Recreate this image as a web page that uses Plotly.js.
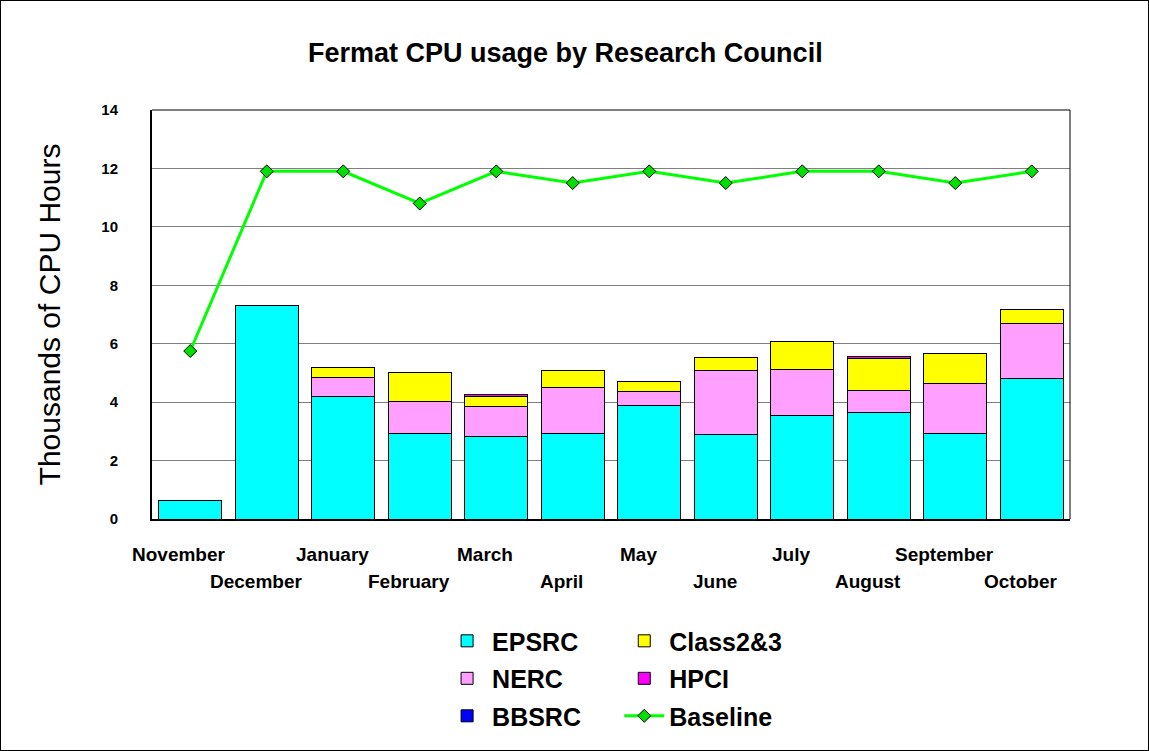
<!DOCTYPE html>
<html><head><meta charset="utf-8">
<script src="https://cdn.plot.ly/plotly-3.0.1.min.js"></script>
<style>
html,body{margin:0;padding:0;background:#fff;}
#wrap{width:1149px;height:751px;box-sizing:border-box;border:1px solid #000;position:relative;overflow:hidden;}
#chart{position:absolute;left:-1px;top:-1px;width:1149px;height:751px;}
</style></head>
<body><div id="wrap"><div id="chart"></div></div>
<script>
const months = ["November","December","January","February","March","April","May","June","July","August","September","October"];
const epsrc   = [0.65, 7.30, 4.21, 2.93, 2.83, 2.93, 3.90, 2.88, 3.55, 3.66, 2.93, 4.82];
const nerc    = [0, 0, 0.62, 1.10, 1.03, 1.58, 0.48, 2.19, 1.56, 0.73, 1.70, 1.88];
const bbsrc   = [0, 0, 0, 0, 0, 0, 0, 0, 0, 0, 0, 0];
const class23 = [0, 0, 0.35, 0.97, 0.34, 0.56, 0.34, 0.47, 0.98, 1.09, 1.04, 0.48];
const hpci    = [0, 0, 0, 0, 0.07, 0, 0, 0, 0, 0.07, 0, 0];
const baseline = [5.75, 11.9, 11.9, 10.8, 11.9, 11.5, 11.9, 11.5, 11.9, 11.9, 11.5, 11.9];
const yTicks = [0, 2, 4, 6, 8, 10, 12, 14];

const FONT = "Liberation Sans, Arial, sans-serif";
const outline = {color: "#000", width: 1};
function bar(name, vals, color, legend, group) {
  return {type: "bar", name: name, x: months, y: vals, marker: {color: color, line: outline},
          legend: legend, legendgroup: group, hoverinfo: "y+name"};
}
const traces = [
  bar("EPSRC", epsrc, "#00ffff", "legend", "a"),
  bar("NERC", nerc, "#ff9fff", "legend", "b"),
  bar("BBSRC", bbsrc, "#0000ff", "legend", "c"),
  bar("Class2&3", class23, "#ffff00", "legend2", "d"),
  bar("HPCI", hpci, "#ff00ff", "legend2", "e"),
  {type: "scatter", mode: "lines+markers", name: "Baseline", x: months, y: baseline,
   line: {color: "#00ff00", width: 3},
   marker: {symbol: "diamond", size: 10, color: "#00e000", line: {color: "#000", width: 1}},
   legend: "legend2", legendgroup: "f"}
];

const annotations = months.map((m, i) => ({
  x: m, xref: "x", yref: "paper", y: i % 2 === 0 ? -0.086 : -0.154,
  yanchor: "middle", xanchor: "center", xshift: -11, showarrow: false, text: m,
  font: {family: FONT, size: 19, color: "#000", weight: "bold"}
}));

const legendBase = {
  font: {family: FONT, size: 25, color: "#000", weight: "bold"},
  bgcolor: "rgba(0,0,0,0)", borderwidth: 0, orientation: "v",
  traceorder: "grouped", tracegroupgap: 2, itemwidth: 40, yanchor: "top", xanchor: "left",
  yref: "container"
};

const layout = {
  width: 1149, height: 751,
  margin: {l: 152, r: 79, t: 110, b: 232},
  paper_bgcolor: "#fff", plot_bgcolor: "#fff",
  barmode: "stack", bargap: 0.18,
  title: {text: "Fermat CPU usage by Research Council", x: 0.492, xanchor: "center", y: 0.93, yanchor: "middle",
          font: {family: FONT, size: 27, color: "#000", weight: "bold"}},
  xaxis: {type: "category", range: [-0.5, 11.5], showticklabels: false, ticks: "", showgrid: false,
          showline: true, linecolor: "#000", linewidth: 2, mirror: false, fixedrange: true},
  yaxis: {range: [0, 14], tickvals: yTicks, ticktext: yTicks.map(String),
          showgrid: true, gridcolor: "#808080", gridwidth: 1, zeroline: false,
          showline: true, linecolor: "#000", linewidth: 2, ticks: "",
          tickfont: {family: FONT, size: 15, color: "#000", weight: "bold"}, ticklabelstandoff: 29,
          title: {text: "Thousands of CPU Hours", standoff: 32, font: {family: FONT, size: 30, color: "#000"}}},
  shapes: [{type: "line", xref: "paper", yref: "paper", x0: 1, x1: 1, y0: 0, y1: 1, line: {color: "#000", width: 1}},
           {type: "line", xref: "paper", yref: "paper", x0: 0, x1: 1, y0: 1, y1: 1, line: {color: "#000", width: 1}}],
  annotations: annotations,
  legend: Object.assign({}, legendBase, {x: 0.316, y: 0.177}),
  legend2: Object.assign({}, legendBase, {x: 0.509, y: 0.177}),
  showlegend: true
};
Plotly.newPlot("chart", traces, layout, {displayModeBar: false, staticPlot: true});
</script></body></html>
